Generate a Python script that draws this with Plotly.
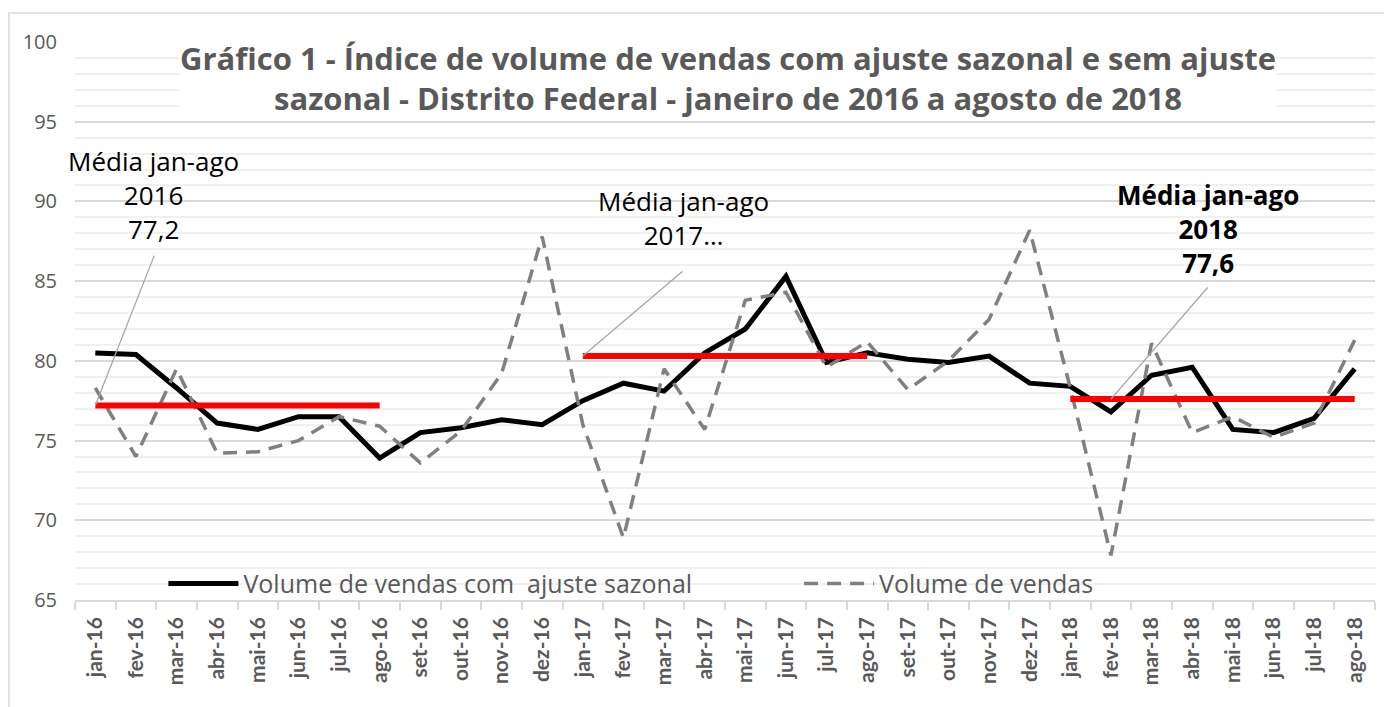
import plotly.graph_objects as go

months = ["jan-16","fev-16","mar-16","abr-16","mai-16","jun-16","jul-16","ago-16",
          "set-16","out-16","nov-16","dez-16",
          "jan-17","fev-17","mar-17","abr-17","mai-17","jun-17","jul-17","ago-17",
          "set-17","out-17","nov-17","dez-17",
          "jan-18","fev-18","mar-18","abr-18","mai-18","jun-18","jul-18","ago-18"]

ajuste_sazonal = [80.5, 80.4, 78.3, 76.1, 75.7, 76.5, 76.5, 73.9,
                  75.5, 75.8, 76.3, 76.0,
                  77.5, 78.6, 78.1, 80.5, 82.0, 85.3, 79.9, 80.5,
                  80.1, 79.9, 80.3, 78.6,
                  78.4, 76.8, 79.1, 79.6, 75.7, 75.5, 76.4, 79.5]

volume_vendas = [78.3, 74.0, 79.5, 74.2, 74.3, 75.0, 76.5, 75.9,
                 73.6, 75.6, 79.2, 87.8,
                 76.0, 68.9, 79.5, 75.7, 83.8, 84.3, 79.6, 81.2,
                 78.2, 80.0, 82.6, 88.2,
                 78.3, 67.8, 81.1, 75.5, 76.5, 75.2, 76.1, 81.3]

media_anos = ["2016", "2017", "2018"]
media_valores = [77.2, 80.3, 77.6]
media_inicio = ["jan-16", "jan-17", "jan-18"]
media_fim = ["ago-16", "ago-17", "ago-18"]

FONT = "Open Sans"
GRAY = "#595959"

fig = go.Figure()

fig.add_trace(go.Scatter(
    x=months, y=ajuste_sazonal, mode="lines",
    name="Volume de vendas com  ajuste sazonal", legend="legend",
    line=dict(color="black", width=5)))

fig.add_trace(go.Scatter(
    x=months, y=volume_vendas, mode="lines",
    name="Volume de vendas", legend="legend2",
    line=dict(color="#808080", width=3.5, dash="14px,9px")))

for ano, val, ini, fim in zip(media_anos, media_valores, media_inicio, media_fim):
    i0, i1 = months.index(ini), months.index(fim)
    seg = months[i0:i1 + 1]
    fig.add_trace(go.Scatter(
        x=seg, y=[val] * len(seg), mode="lines", showlegend=False,
        name="Média jan-ago " + ano,
        line=dict(color="#ff0000", width=6)))

# annotations for averages
ann_specs = [
    ("Média jan-ago<br>2016<br>77,2", 1.43, 90.4, (1.45, 86.6), 0),
    ("Média jan-ago<br>2017…", 14.47, 88.95, (14.45, 85.6), 1),
    ("<b>Média jan-ago<br>2018<br>77,6</b>", 27.4, 88.25, (27.38, 84.6), 2),
]
leader_end = [("jan-16", 77.2), ("jan-17", 80.3), ("fev-18", 77.6)]
for (txt, tx, ty, (lx, ly), k) in ann_specs:
    fig.add_annotation(x=tx, y=ty, xref="x", yref="y", text=txt, showarrow=False,
                       xanchor="center", yanchor="middle",
                       font=dict(family=FONT, size=26, color="black"),
                       align="center")
    ex, ey = leader_end[k]
    fig.add_shape(type="line", xref="x", yref="y",
                  x0=lx, y0=ly, x1=months.index(ex), y1=ey,
                  line=dict(color="#a6a6a6", width=1.3), layer="above")

# title as annotation with white background
fig.add_annotation(
    x=0.502, y=0.935, xref="paper", yref="paper", xanchor="center", yanchor="middle",
    text="<b>Gráfico 1 - Índice de volume de vendas com ajuste sazonal e sem ajuste<br>"
         "sazonal - Distrito Federal - janeiro de 2016 a agosto de 2018</b>",
    showarrow=False, bgcolor="white", borderpad=0,
    font=dict(family=FONT, size=31, color=GRAY), align="center")

# outer border
fig.add_shape(type="rect", xref="paper", yref="paper",
              x0=-0.0508, x1=1.05, y0=-0.25, y1=1.052,
              line=dict(color="#d9d9d9", width=1.5), layer="below")

legend_common = dict(orientation="h", yanchor="middle", xanchor="left",
                     bgcolor="rgba(0,0,0,0)", itemwidth=70,
                     font=dict(family=FONT, size=25, color=GRAY))

fig.update_layout(
    width=1384, height=699,
    margin=dict(l=67, r=17, t=34, b=107),
    paper_bgcolor="white", plot_bgcolor="white",
    font=dict(family=FONT, color=GRAY),
    showlegend=True,
    legend=dict(x=0.068, y=0.029, **legend_common),
    legend2=dict(x=0.557, y=0.029, **legend_common),
    xaxis=dict(type="category", categoryorder="array", categoryarray=months,
               tickangle=-90, tickfont=dict(family="Lato", size=21, color=GRAY, weight="bold"),
               showgrid=False, showline=True, linecolor="#d9d9d9", linewidth=1.5,
               ticks="outside", tickson="boundaries", ticklen=8, tickcolor="#d9d9d9",
               tickwidth=1.5, ticklabelstandoff=7, range=[-0.5, 31.5]),
    yaxis=dict(range=[65, 100], dtick=5, tick0=65,
               tickfont=dict(family=FONT, size=20, color=GRAY),
               showgrid=True, gridcolor="#d9d9d9", gridwidth=1.5,
               zeroline=False, showline=False, ticks="", ticklabelstandoff=17,
               minor=dict(dtick=1, showgrid=True, gridcolor="#f0f0f0", gridwidth=1.5)),
)

fig.write_html("out.html")
